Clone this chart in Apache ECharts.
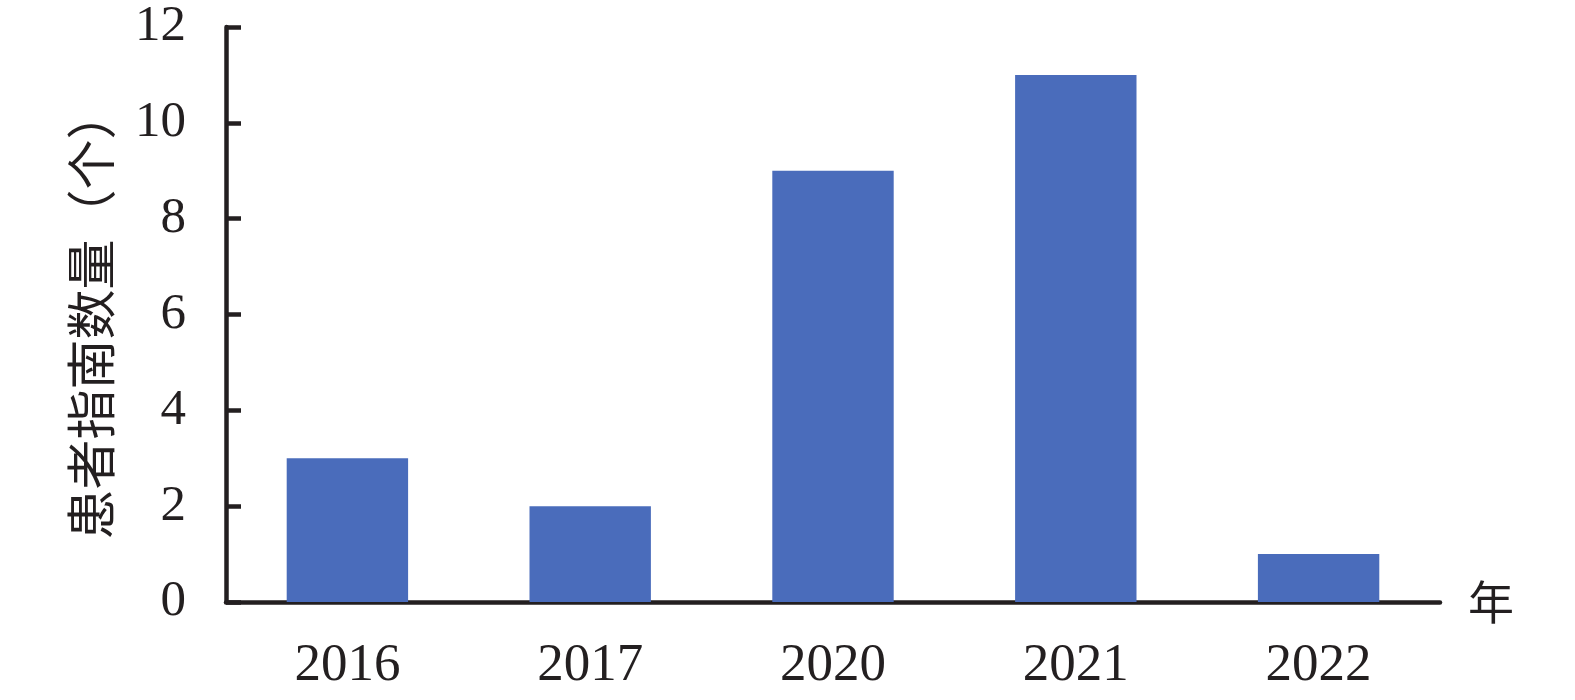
<!DOCTYPE html>
<html><head><meta charset="utf-8">
<script src="https://cdn.jsdelivr.net/npm/echarts@6/dist/echarts.min.js"></script>
<style>html,body{margin:0;padding:0;background:#fff}#c{width:1575px;height:700px}</style>
</head><body><div id="c"></div>
<script>
const categories = ['2016', '2017', '2020', '2021', '2022'];
const values = [3, 2, 9, 11, 1];
const yTicks = [0, 2, 4, 6, 8, 10, 12];
const yName = '患者指南数量（个）';
const xName = '年';

const chart = echarts.init(document.getElementById('c'));
const serif = '"Liberation Serif", "DejaVu Serif", serif';
const axisColor = '#231f20';
chart.setOption({
  animation: false,
  grid: { left: 226, top: 27, right: 135, bottom: 98 },
  xAxis: {
    type: 'category', data: categories,
    name: xName, nameLocation: 'end', nameGap: 28,
    nameTextStyle: { fontFamily: '"Noto Sans CJK SC"', fontSize: 46, color: axisColor, verticalAlign: 'middle' },
    axisLine: { lineStyle: { color: axisColor, width: 4.5 } },
    axisTick: { show: false },
    axisLabel: { fontFamily: serif, fontSize: 53, color: axisColor, margin: 38 }
  },
  yAxis: {
    type: 'value', min: yTicks[0], max: yTicks[yTicks.length-1], interval: 2,
    name: yName, nameLocation: 'middle', nameGap: 110, nameRotate: 90,
    nameTextStyle: { fontFamily: '"Noto Sans CJK SC"', fontSize: 50, color: axisColor },
    axisLine: { show: true, lineStyle: { color: axisColor, width: 4.5 } },
    axisTick: { show: true, inside: true, length: 15, lineStyle: { color: axisColor, width: 4.5 } },
    splitLine: { show: false },
    axisLabel: { fontFamily: serif, fontSize: 51, color: axisColor, margin: 40 }
  },
  series: [{
    type: 'bar', data: values, barWidth: '50%',
    itemStyle: { color: '#4a6cbb' }
  }]
});
</script></body></html>
